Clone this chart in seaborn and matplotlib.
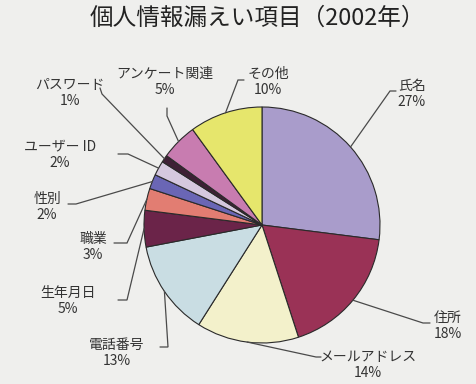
import numpy as np
import matplotlib
matplotlib.use("Agg")
import matplotlib.pyplot as plt
import seaborn as sns

sns.set_theme(style="white")
plt.rcParams['font.family'] = ['Noto Sans CJK JP', 'DejaVu Sans']

title = "個人情報漏えい項目（2002年）"
categories = ["氏名", "住所", "メールアドレス", "電話番号", "生年月日", "職業",
              "性別", "ユーザー ID", "パスワード", "アンケート関連", "その他"]
values = [27, 18, 14, 13, 5, 3, 2, 2, 1, 5, 10]
colors = ["#A99CCB", "#9A3256", "#F3F1CB", "#C9DDE3", "#6B2449", "#E27D72",
          "#6A66B5", "#D5C8DE", "#3E2035", "#C87CB0", "#E6E66C"]

W, H = 476, 384
fig = plt.figure(figsize=(W / 100, H / 100), dpi=100)
fig.patch.set_facecolor("#EFEFED")
ax = fig.add_axes([0, 0, 1, 1])
ax.set_facecolor("#EFEFED")
ax.set_xlim(0, W)
ax.set_ylim(0, H)
ax.set_aspect("equal")
ax.axis("off")

def Y(y):
    return H - y

cx, cy, r = 262, 225, 118
wedges, _ = ax.pie(values, colors=colors, startangle=90, counterclock=False,
                   center=(cx, Y(cy)), radius=r,
                   wedgeprops=dict(edgecolor="#2a2a2a", linewidth=0.8))
ax.set_xlim(0, W)
ax.set_ylim(0, H)

# label text positions (image coords), elbow and end of leader lines
label_pos = [(412, 94), (448, 326), (368, 365), (117, 353), (68, 301), (93, 247),
             (47, 207), (60, 155), (70, 93), (165, 82), (268, 82)]
elbows = [(390, 91), (423, 323), (316, 357), (168, 347), (127, 300), (127, 243),
          (76, 204), (128, 154), (102, 94), (167, 116), (238, 80)]
ends = [(396, 91), (430, 323), (321, 357), (160, 347), (118, 300), (114, 243),
        (68, 204), (118, 154), (100, 88), (167, 108), (244, 80)]

for w, cat, v, lp, el, en in zip(wedges, categories, values, label_pos, elbows, ends):
    mid = np.deg2rad((w.theta1 + w.theta2) / 2)
    px = cx + r * np.cos(mid)
    py = Y(cy) + r * np.sin(mid)
    ax.plot([px, el[0], en[0]], [py, Y(el[1]), Y(en[1])], color="#4a4a4a",
            linewidth=0.9, solid_joinstyle="miter")
    ax.text(lp[0], Y(lp[1]), f"{cat}\n{v}%", ha="center", va="center",
            fontsize=10, color="#333333", linespacing=1.25)

ax.text(257, Y(18), title, ha="center", va="center", fontsize=17, color="#222222")

fig.savefig("out.png", dpi=100, facecolor=fig.get_facecolor())
